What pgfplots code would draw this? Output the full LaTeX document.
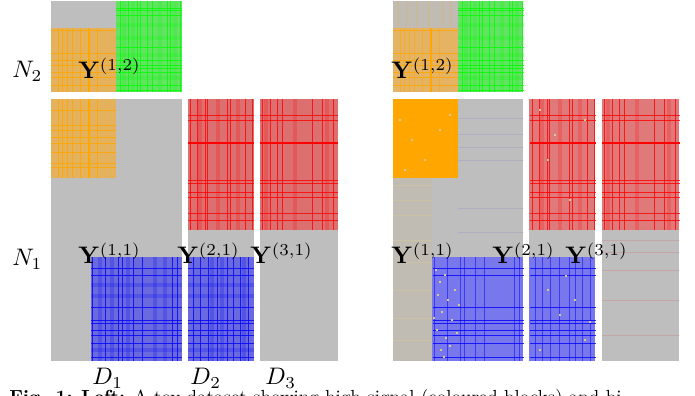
\documentclass[border=0pt]{standalone}
\usepackage{pgfplots}
\pgfplotsset{compat=1.18}
\definecolor{gr}{RGB}{190,190,190}
\definecolor{orA}{RGB}{228,178,92}
\definecolor{orS}{RGB}{255,166,0}
\definecolor{gnA}{RGB}{100,226,100}
\definecolor{gnS}{RGB}{0,255,0}
\definecolor{rdA}{RGB}{220,112,112}
\definecolor{rdS}{RGB}{255,0,0}
\definecolor{blA}{RGB}{106,106,222}
\definecolor{blS}{RGB}{0,0,255}
\definecolor{gtR}{RGB}{192,188,180}
\definecolor{orR}{RGB}{228,180,100}
\definecolor{blR}{RGB}{120,120,236}
\definecolor{rdR}{RGB}{224,122,122}
\definecolor{spk}{RGB}{215,200,150}
\newcommand{\rect}[5]{\addplot[fill=#5,draw=none,forget plot] coordinates {(#1,#2) (#3,#2) (#3,#4) (#1,#4)};}
\pgfplotsset{
  st/.style={draw=#1,line width=1bp,opacity=0.8,forget plot},
  sst/.style={draw=#1,line width=2bp,forget plot},
  sft/.style={draw=#1,line width=4bp,opacity=0.2,forget plot},
  rp/.style={x filter/.expression={x+342}},
}
\tikzset{lab/.style={anchor=base west,scale=2.4,inner sep=0pt}}
\begin{document}
\begin{tikzpicture}
\useasboundingbox (0,0) rectangle (695bp,396bp);
\begin{axis}[at={(0bp,396bp)},anchor=origin,x=1bp,y=1bp,y dir=reverse,
  xmin=0,xmax=695,ymin=0,ymax=396,hide axis,clip=false]
% ---------------- LEFT PANEL: base blocks ----------------
\rect{51}{1}{182}{92}{gr}
\rect{51}{28}{116}{92}{orA}
\rect{116}{1}{182}{92}{gnA}
\rect{51}{99}{182}{361}{gr}
\rect{51}{99}{116}{178}{orA}
\rect{91}{257}{182}{361}{blA}
\rect{188}{99}{254}{361}{gr}
\rect{188}{99}{254}{230}{rdA}
\rect{188}{257}{254}{361}{blA}
\rect{260}{99}{338}{361}{gr}
\rect{260}{99}{338}{230}{rdA}
% ---------------- RIGHT PANEL: base blocks ----------------
\rect{393}{1}{523}{92}{gtR}
\rect{393}{28}{458}{92}{orR}
\rect{458}{1}{523}{92}{gnA}
\rect{393}{99}{523}{361}{gr}
\rect{393}{178}{432}{361}{gtR}
\rect{393}{99}{458}{178}{orS}
\rect{432}{257}{523}{361}{blR}
\rect{529}{99}{595}{361}{gr}
\rect{529}{99}{595}{230}{rdR}
\rect{529}{257}{595}{361}{blR}
\rect{602}{99}{679}{361}{gr}
\rect{602}{99}{679}{230}{rdR}
% green block
\pgfplotsinvokeforeach{120,128,137,140,147,152,167,170,180}{
  \addplot[st=gnS] coordinates {(#1,1) (#1,92)};
  \addplot[st=gnS,rp] coordinates {(#1,1) (#1,92)};}
\pgfplotsinvokeforeach{8,10,15,47,60,65,68,72,85,90}{
  \addplot[st=gnS] coordinates {(116,#1) (182,#1)};
  \addplot[st=gnS,rp] coordinates {(116,#1) (182,#1)};}
\pgfplotsinvokeforeach{124,133,160,175}{
  \addplot[sft=gnS] coordinates {(#1,1) (#1,92)};
  \addplot[sft=gnS,rp] coordinates {(#1,1) (#1,92)};}
\pgfplotsinvokeforeach{25,38,55,78}{
  \addplot[sft=gnS] coordinates {(116,#1) (182,#1)};
  \addplot[sft=gnS,rp] coordinates {(116,#1) (182,#1)};}
% orange blocks
\pgfplotsinvokeforeach{58,62,67,72,80,97}{
  \addplot[st=orS] coordinates {(#1,28) (#1,92)};
  \addplot[st=orS] coordinates {(#1,99) (#1,178)};
  \addplot[st=orS,rp,opacity=0.5] coordinates {(#1,28) (#1,92)};}
\pgfplotsinvokeforeach{56,64,75,86,100,108}{
  \addplot[draw=orS,line width=0.8bp,opacity=0.25,rp,forget plot] coordinates {(#1,1) (#1,28)};}
\addplot[sst=orS] coordinates {(89,28) (89,92)};
\addplot[sst=orS] coordinates {(89,99) (89,178)};
\addplot[sst=orS,rp] coordinates {(89,28) (89,92)};
\pgfplotsinvokeforeach{30,53,60,65,72,77,85}{
  \addplot[st=orS] coordinates {(51,#1) (116,#1)};
  \addplot[st=orS,rp] coordinates {(51,#1) (116,#1)};}
\pgfplotsinvokeforeach{110,125,130,137,143,152,163,167}{
  \addplot[st=orS] coordinates {(51,#1) (116,#1)};}
\pgfplotsinvokeforeach{185,200,215,240,262,290,318,340}{
  \addplot[draw=spk,line width=0.8bp,opacity=0.5,rp,forget plot] coordinates {(51,#1) (90,#1)};}
\pgfplotsinvokeforeach{118,134,147,160,208,232}{
  \addplot[draw=blS,line width=0.8bp,opacity=0.08,rp,forget plot] coordinates {(116,#1) (182,#1)};}
% red blocks
\pgfplotsinvokeforeach{190,197,205,207,227,230,245,252,262,270,277,282,312,322,333}{
  \addplot[st=rdS] coordinates {(#1,99) (#1,230)};
  \addplot[st=rdS,rp] coordinates {(#1,99) (#1,230)};}
\pgfplotsinvokeforeach{115,120,180,183,192,197,213,220}{
  \addplot[st=rdS] coordinates {(188,#1) (254,#1)};
  \addplot[st=rdS] coordinates {(260,#1) (338,#1)};
  \addplot[st=rdS,rp] coordinates {(188,#1) (254,#1)};
  \addplot[st=rdS,rp] coordinates {(260,#1) (338,#1)};}
\addplot[sst=rdS] coordinates {(188,143) (254,143)};
\addplot[sst=rdS] coordinates {(260,143) (338,143)};
\addplot[sst=rdS,rp] coordinates {(188,143) (254,143)};
\addplot[sst=rdS,rp] coordinates {(260,143) (338,143)};
\pgfplotsinvokeforeach{200,218,238,266,295,327}{
  \addplot[sft=rdS] coordinates {(#1,99) (#1,230)};
  \addplot[sft=rdS,rp] coordinates {(#1,99) (#1,230)};}
\pgfplotsinvokeforeach{240,252,270,300,335}{
  \addplot[draw=rdS,line width=0.8bp,opacity=0.12,rp,forget plot] coordinates {(260,#1) (338,#1)};}
% blue blocks
\pgfplotsinvokeforeach{92,105,118,122,133,142,172,177,193,200,208,217,227,233,240,248}{
  \addplot[st=blS] coordinates {(#1,257) (#1,361)};
  \addplot[st=blS,rp,opacity=0.5] coordinates {(#1,257) (#1,361)};}
\pgfplotsinvokeforeach{268,275,307,320,323,330,335,343,357}{
  \addplot[st=blS] coordinates {(91,#1) (182,#1)};
  \addplot[st=blS] coordinates {(188,#1) (254,#1)};
  \addplot[st=blS,rp] coordinates {(91,#1) (182,#1)};
  \addplot[st=blS,rp] coordinates {(188,#1) (254,#1)};}
\pgfplotsinvokeforeach{100,112,128,155,165,212,222,244}{
  \addplot[sft=blS] coordinates {(#1,257) (#1,361)};}
\pgfplotsinvokeforeach{285,296,350}{
  \addplot[sft=blS] coordinates {(91,#1) (182,#1)};
  \addplot[sft=blS] coordinates {(188,#1) (254,#1)};}
% speckles in right panel
\addplot[only marks,mark=square*,mark size=0.6bp,color=spk,forget plot] coordinates {
 (436,270) (440,282) (445,275) (438,295) (448,300) (442,312) (452,320) (437,330)
 (446,338) (441,350) (450,346) (455,290) (459,305) (434,318) (444,357) (457,333)
 (548,290) (560,315) (575,300) (585,340) (540,350) (566,276) (590,322)
 (400,120) (412,140) (425,160) (440,130) (405,170) (450,115)
 (540,110) (555,135) (548,160) (570,200) (585,120)};
% ---------------- labels ----------------
\node[lab] at (axis cs:12,78) {$N_2$};
\node[lab] at (axis cs:12,266) {$N_1$};
\node[lab] at (axis cs:78,79) {$\mathbf{Y}^{(1,2)}$};
\node[lab] at (axis cs:78,264) {$\mathbf{Y}^{(1,1)}$};
\node[lab] at (axis cs:177,264) {$\mathbf{Y}^{(2,1)}$};
\node[lab] at (axis cs:250,264) {$\mathbf{Y}^{(3,1)}$};
\node[lab] at (axis cs:92,385) {$D_1$};
\node[lab] at (axis cs:190,385) {$D_2$};
\node[lab] at (axis cs:265,385) {$D_3$};
\node[lab] at (axis cs:391,79) {$\mathbf{Y}^{(1,2)}$};
\node[lab] at (axis cs:391,264) {$\mathbf{Y}^{(1,1)}$};
\node[lab] at (axis cs:492,264) {$\mathbf{Y}^{(2,1)}$};
\node[lab] at (axis cs:565,264) {$\mathbf{Y}^{(3,1)}$};
\node[anchor=base west,scale=1.9,inner sep=0pt] at (axis cs:9,404)
  {\textbf{Fig. 1:} \textbf{Left:} A toy dataset showing high signal (coloured blocks) and bi};
\end{axis}
\end{tikzpicture}
\end{document}
